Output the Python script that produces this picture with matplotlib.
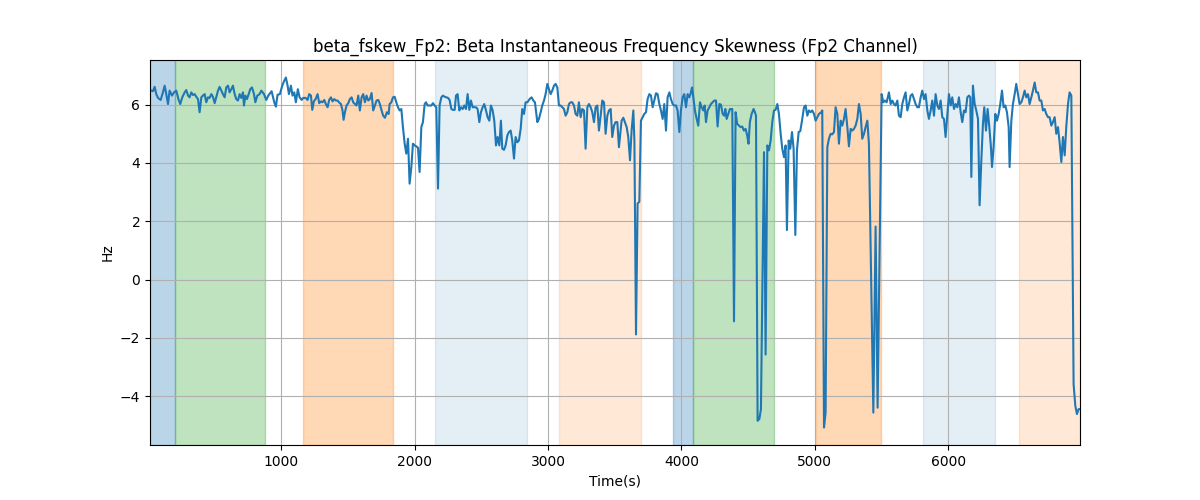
import matplotlib
matplotlib.use("Agg")
import matplotlib.pyplot as plt

time_s = [
    14, 36, 49, 61, 74, 94, 111, 124, 136, 149, 161, 179, 194, 211, 229, 241, 256, 274, 286, 299,
    311, 324, 336, 349, 361, 374, 386, 399, 411, 424, 436, 449, 461, 474, 486, 499, 511, 524, 536, 549,
    561, 574, 586, 599, 611, 624, 636, 649, 661, 674, 686, 699, 711, 719, 729, 741, 754, 766, 779, 794,
    804, 819, 836, 849, 869, 886,
    901, 926, 946, 958, 971, 988, 1006, 1021, 1033, 1046, 1056, 1071, 1083, 1096, 1108, 1123, 1136, 1151, 1163, 1181,
    1196, 1208, 1221, 1231, 1243, 1256, 1271, 1283, 1296, 1308, 1321, 1333, 1346, 1358, 1371, 1383, 1396, 1408, 1421, 1431,
    1446, 1458, 1466, 1476, 1488, 1501, 1513, 1526, 1538, 1551, 1563, 1576, 1588, 1601, 1613, 1626, 1638, 1651, 1663, 1676,
    1688, 1701, 1713, 1726, 1738, 1751, 1763, 1776,
    1791, 1804, 1811, 1824, 1836, 1849, 1861, 1874, 1886, 1899, 1911, 1924, 1936, 1949, 1961, 1974, 1986, 1999, 2011, 2024,
    2036, 2049, 2061, 2074, 2084, 2096, 2109, 2124, 2136, 2149, 2161, 2174, 2186, 2199, 2211, 2224, 2236, 2249, 2261, 2274,
    2286, 2299, 2309, 2321, 2334, 2346, 2359, 2371, 2384, 2396, 2409, 2421, 2434, 2446, 2459, 2471, 2484, 2496, 2509, 2521,
    2534, 2546, 2559, 2571, 2584, 2596, 2609, 2621, 2634, 2646,
    2656, 2669, 2681, 2694, 2706, 2719, 2731, 2744, 2756, 2769, 2781, 2794, 2806, 2819, 2831, 2844, 2861, 2876, 2889, 2901,
    2919, 2931, 2944, 2956, 2969, 2981, 2994, 3006, 3019, 3031, 3044, 3056, 3069, 3081, 3094, 3106, 3119, 3131, 3144, 3156,
    3169, 3181, 3194, 3206, 3219, 3231, 3244, 3256, 3269, 3281, 3294, 3306, 3319, 3331, 3344, 3356, 3369, 3381, 3394, 3406,
    3419, 3431, 3444, 3456, 3469, 3481, 3494, 3506, 3519, 3531,
    3551, 3564, 3576, 3589, 3601, 3614, 3626, 3639, 3647, 3659, 3671, 3684, 3696, 3709, 3721, 3734, 3746, 3759, 3771, 3784,
    3796, 3809, 3821, 3834, 3846, 3859, 3871, 3884, 3896, 3909, 3921, 3934, 3946, 3959, 3971, 3984,
    3996, 4009, 4021, 4034, 4046, 4059, 4071, 4079, 4089, 4101, 4114, 4126, 4139, 4151, 4164, 4174, 4184, 4196, 4209, 4221,
    4234, 4246, 4259, 4271, 4284, 4296, 4309, 4321, 4329, 4339, 4351, 4364, 4381, 4394, 4406,
    4418, 4431, 4443, 4456, 4468, 4481, 4493, 4503, 4513, 4526, 4541, 4551, 4559, 4571, 4584, 4596, 4619, 4631, 4644, 4656,
    4669, 4681, 4694, 4706, 4719, 4731, 4744, 4756, 4769, 4781, 4791, 4804, 4816, 4829, 4841, 4854, 4866, 4879, 4891, 4904,
    4919, 4931, 4944, 4956, 4969, 4981, 4994, 5006, 5019, 5031, 5049, 5056, 5069, 5081, 5094, 5106, 5119, 5131, 5144, 5156,
    5169, 5181, 5194, 5206, 5219, 5231, 5244, 5256, 5269, 5281, 5294, 5306, 5319, 5331, 5344, 5356, 5369, 5381, 5394, 5406,
    5439, 5456, 5471, 5501, 5514, 5526, 5539,
    5556, 5569, 5581, 5594, 5606, 5619, 5631, 5644, 5656, 5669, 5681, 5694, 5706, 5719, 5731, 5744, 5756, 5769, 5781, 5794,
    5806, 5819, 5831, 5844, 5856, 5869, 5881, 5894, 5906, 5919, 5931, 5944, 5956, 5969, 5981, 5994, 6006, 6019, 6031, 6044,
    6056, 6069, 6081, 6094, 6106, 6119, 6131, 6144, 6156,
    6166, 6174, 6186, 6199, 6211, 6224, 6236, 6249, 6261, 6271, 6284, 6296, 6309, 6321, 6329, 6341, 6354, 6366, 6379, 6391,
    6404, 6416, 6429, 6441, 6454, 6461, 6474, 6486, 6499, 6511, 6524, 6536, 6549, 6561, 6574, 6586, 6599, 6611, 6624, 6636,
    6649, 6661, 6674, 6686, 6699, 6711, 6724, 6736, 6749, 6761, 6774, 6786, 6799, 6811, 6824, 6836, 6849, 6861, 6874, 6886,
    6899, 6911, 6924, 6941, 6954, 6966, 6979, 6989,
]

fskew_hz = [
    6.50, 6.46, 6.61, 6.36, 6.23, 6.16, 6.42, 6.65, 6.36, 6.02, 6.48, 6.31, 6.42, 6.48, 6.16, 6.02, 6.25, 6.42, 6.50, 6.31,
    6.25, 6.42, 6.33, 6.36, 6.27, 6.19, 5.74, 6.25, 6.31, 6.36, 6.08, 6.25, 6.23, 6.36, 6.27, 6.05, 6.25, 6.48, 6.61, 6.48,
    6.36, 6.25, 6.59, 6.65, 6.42, 6.53, 6.65, 6.36, 6.19, 6.14, 6.36, 6.23, 6.42, 5.97, 6.31, 6.19, 6.36, 6.53, 6.59, 6.36,
    6.08, 6.31, 6.36, 6.48, 6.36, 6.16,
    6.31, 6.46, 6.08, 5.93, 6.34, 6.36, 6.65, 6.82, 6.93, 6.65, 6.36, 6.65, 6.31, 6.42, 6.08, 6.53, 6.25, 6.16, 6.23, 6.23,
    6.16, 6.36, 6.31, 5.82, 6.11, 6.19, 6.36, 6.05, 6.11, 6.08, 6.16, 6.02, 5.91, 6.16, 6.25, 6.11, 6.19, 6.14, 6.14, 6.08,
    6.02, 5.80, 5.48, 5.74, 5.97, 6.05, 6.19, 6.25, 6.08, 6.02, 5.97, 6.31, 5.80, 6.25, 6.36, 6.08, 6.31, 6.14, 6.19, 6.40,
    5.80, 5.97, 6.14, 6.16, 6.02, 5.80, 5.62, 5.55,
    5.74, 5.68, 6.02, 6.08, 6.25, 6.27, 6.08, 5.91, 5.80, 5.85, 5.23, 4.66, 4.32, 4.83, 3.29, 3.86, 4.66, 4.60, 4.57, 4.52,
    3.69, 5.23, 5.40, 6.02, 6.08, 5.97, 5.97, 5.97, 6.05, 5.97, 5.91, 3.12, 5.97, 6.25, 6.31, 6.27, 6.25, 6.23, 6.16, 5.85,
    5.82, 5.82, 6.31, 6.36, 5.80, 5.91, 5.85, 5.97, 5.85, 6.36, 5.82, 6.14, 5.91, 5.91, 5.91, 5.85, 5.40, 5.74, 5.91, 6.02,
    5.80, 5.57, 5.45, 5.97, 5.80, 5.45, 4.60, 4.89, 4.60, 5.45,
    4.49, 4.45, 4.60, 4.94, 5.06, 5.11, 4.77, 4.15, 4.89, 4.71, 4.77, 5.17, 5.85, 5.68, 6.08, 6.08, 6.19, 6.25, 6.14, 6.08,
    5.40, 5.51, 5.74, 5.97, 6.14, 6.36, 6.71, 6.53, 6.36, 6.48, 6.65, 6.71, 6.59, 5.97, 5.97, 5.91, 5.85, 5.62, 5.74, 6.02,
    6.08, 6.08, 5.97, 5.68, 5.62, 6.08, 5.57, 5.85, 5.80, 4.49, 5.91, 6.02, 5.91, 5.74, 5.40, 5.91, 5.97, 5.11, 5.62, 6.14,
    6.08, 5.00, 5.62, 5.80, 5.85, 4.89, 5.28, 5.40, 5.40, 4.54,
    5.45, 5.55, 5.40, 5.23, 4.89, 4.09, 5.11, 5.80, 4.77, -1.88, 2.61, 2.67, 5.45, 5.57, 5.68, 5.74, 6.19, 6.36, 6.31, 5.91,
    6.14, 6.39, 6.36, 6.02, 5.80, 5.51, 6.02, 5.11, 6.25, 6.42, 6.19, 6.02, 5.97, 5.97, 5.80, 5.06,
    5.80, 6.25, 6.36, 5.91, 6.36, 6.25, 6.42, 6.59, 6.25, 5.80, 5.51, 5.28, 6.08, 5.91, 5.80, 5.97, 5.40, 5.80, 5.91, 6.02,
    6.08, 6.14, 6.14, 5.25, 6.02, 6.00, 5.68, 5.62, 5.85, 5.51, 5.68, 5.85, 5.85, -1.43, 5.74,
    5.34, 5.28, 5.23, 5.25, 5.11, 5.17, 4.94, 4.66, 5.40, 5.68, 5.85, 5.74, 5.62, -4.84, -4.78, -4.44, 4.37, -2.57, 4.60, 4.43,
    4.77, 5.40, 5.80, 5.82, 6.02, 5.68, 5.00, 4.49, 4.20, 4.60, 1.70, 4.77, 4.49, 5.06, 4.49, 1.53, 4.43, 5.06, 5.09, 5.45,
    5.91, 5.97, 5.62, 5.80, 5.74, 5.80, 5.68, 5.45, 5.57, 5.68, 5.74, 5.80, -5.07, -4.56, 4.54, 4.83, 5.00, 4.98, 5.06, 5.91,
    5.68, 4.66, 5.45, 5.28, 5.51, 5.85, 5.23, 4.57, 5.17, 5.11, 5.17, 5.28, 5.51, 6.02, 5.68, 4.83, 5.00, 5.23, 5.45, 4.66,
    -4.56, 1.82, -4.39, 6.36, 6.08, 6.14, 6.08,
    6.42, 6.02, 6.14, 6.02, 5.97, 6.14, 5.62, 5.57, 6.02, 6.25, 6.42, 5.80, 6.02, 6.31, 6.36, 6.19, 6.02, 5.91, 5.91, 6.25,
    6.48, 6.19, 6.36, 5.80, 5.51, 5.80, 6.14, 5.62, 6.36, 5.97, 5.85, 6.14, 5.57, 5.51, 4.89, 5.68, 6.36, 5.97, 6.25, 5.85,
    6.02, 5.91, 6.25, 5.74, 5.40, 5.80, 5.74, 6.25, 6.31,
    6.25, 3.52, 6.65, 6.02, 5.80, 5.51, 2.55, 4.09, 5.34, 5.91, 5.11, 5.85, 5.23, 4.54, 3.86, 4.54, 5.68, 5.45, 5.68, 6.02,
    6.48, 5.91, 5.97, 5.74, 5.23, 3.86, 5.45, 6.02, 6.36, 6.71, 6.36, 6.02, 6.08, 6.25, 6.48, 6.25, 6.36, 6.02, 6.25, 6.48,
    6.76, 6.42, 6.42, 6.14, 6.14, 5.80, 5.85, 5.68, 5.57, 5.57, 5.28, 5.40, 5.57, 5.00, 5.23, 4.71, 4.03, 4.89, 4.26, 5.23,
    6.02, 6.42, 6.31, -3.59, -4.33, -4.61, -4.44, -4.44,
]

# shaded intervals: (start, end, colour, alpha)
span_starts = [14, 199, 1163, 2154, 3081, 3939, 4089, 5006, 5814, 6533]
span_ends = [199, 878, 1836, 2838, 3696, 4089, 4691, 5494, 6348, 6989]
span_colors = ["tab:blue", "tab:green", "tab:orange", "tab:blue", "tab:orange",
               "tab:blue", "tab:green", "tab:orange", "tab:blue", "tab:orange"]
span_alphas = [0.3, 0.3, 0.3, 0.12, 0.17, 0.3, 0.3, 0.3, 0.12, 0.17]

fig, ax = plt.subplots(figsize=(12, 5), dpi=100)
for s, e, c, a in zip(span_starts, span_ends, span_colors, span_alphas):
    ax.axvspan(s, e, color=c, alpha=a, linewidth=1)
ax.plot(time_s, fskew_hz, color="tab:blue", linewidth=1.5)
ax.set_xlim(time_s[0], time_s[-1])
ax.grid(True)
ax.set_title("beta_fskew_Fp2: Beta Instantaneous Frequency Skewness (Fp2 Channel)")
ax.set_xlabel("Time(s)")
ax.set_ylabel("Hz")
fig.savefig("out.png")
